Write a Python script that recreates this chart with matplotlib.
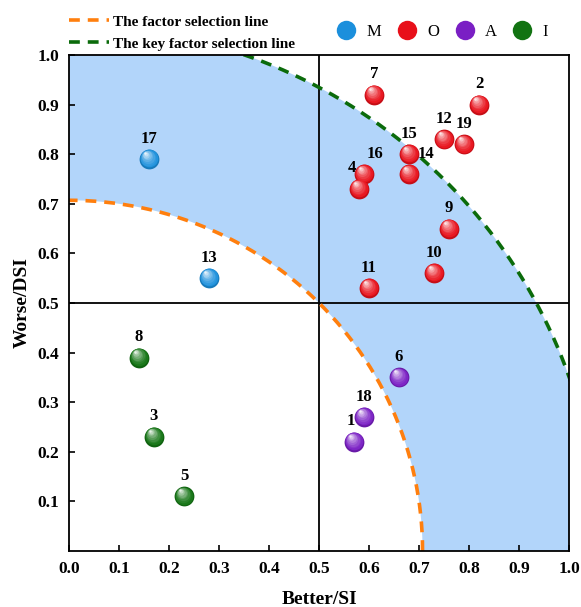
import numpy as np
import matplotlib.pyplot as plt
from matplotlib.lines import Line2D
from matplotlib.colors import to_rgb

plt.rcParams["font.family"] = ["Liberation Serif", "DejaVu Serif"]
plt.rcParams["font.weight"] = "bold"

# factor id, Better/SI, Worse/DSI, category
ids = [17, 13, 8, 3, 5, 7, 2, 12, 19, 15, 14, 16, 4, 9, 10, 11, 6, 18, 1]
better = [0.16, 0.28, 0.14, 0.17, 0.23, 0.61, 0.82, 0.75, 0.79, 0.68, 0.68,
          0.59, 0.58, 0.76, 0.73, 0.60, 0.66, 0.59, 0.57]
worse = [0.79, 0.55, 0.39, 0.23, 0.11, 0.92, 0.90, 0.83, 0.82, 0.80, 0.76,
         0.76, 0.73, 0.65, 0.56, 0.53, 0.35, 0.27, 0.22]
cats = ["M", "M", "I", "I", "I", "O", "O", "O", "O", "O", "O",
        "O", "O", "O", "O", "O", "A", "A", "A"]

# label offsets in points (dx, dy)
label_off = {16: (8, 9), 4: (-5, 9), 14: (12, 9), 1: (-2, 9)}

cat_order = ["M", "O", "A", "I"]
cat_colors = {"M": "#1b8fdc", "O": "#e8101a", "A": "#7a1fc4", "I": "#127312"}

r_factor = np.sqrt(0.5)
r_key = 1.06

fig = plt.figure(figsize=(5.81, 6.07), dpi=100)
ax = fig.add_axes([69 / 581, 56 / 607, 500 / 581, 496 / 607])

# shaded band between the two arcs
th = np.linspace(0, np.pi / 2, 300)
band_x = np.concatenate([r_key * np.cos(th), r_factor * np.cos(th[::-1])])
band_y = np.concatenate([r_key * np.sin(th), r_factor * np.sin(th[::-1])])
ax.fill(band_x, band_y, color="#b2d5fa", lw=0, zorder=0)

ax.plot(r_factor * np.cos(th), r_factor * np.sin(th), ls=(0, (3, 2.2)),
        color="#ff7f0e", lw=2.6, zorder=2)
ax.plot(r_key * np.cos(th), r_key * np.sin(th), ls=(0, (3, 2.2)),
        color="#0b6b0b", lw=2.6, zorder=2)

ax.axvline(0.5, color="black", lw=1.3, zorder=1)
ax.axhline(0.5, color="black", lw=1.3, zorder=1)


def sphere(x, y, color, s=200, z=4):
    base = np.array(to_rgb(color))
    n = 9
    for k in range(n):
        f = k / (n - 1)
        c = base * 0.85 if k == 0 else base + (1 - base) * (f ** 1.6) * 0.9
        c = np.clip(c, 0, 1)
        size = s * (1 - f) ** 1.7 + 3
        sh = 0.012 * f
        ax.scatter(np.asarray(x) - sh * 0.6, np.asarray(y) + sh, s=size,
                   color=c, lw=0, zorder=z + k * 0.01)


for cat in cat_order:
    xs = [b for b, c in zip(better, cats) if c == cat]
    ys = [w for w, c in zip(worse, cats) if c == cat]
    sphere(xs, ys, cat_colors[cat])

for i, b, w in zip(ids, better, worse):
    dx, dy = label_off.get(i, (0, 9))
    ax.annotate(str(i), (b, w), xytext=(dx, dy), textcoords="offset points",
                ha="center", va="bottom", fontsize=12, fontweight="bold", zorder=6)

ax.set_xlim(0, 1)
ax.set_ylim(0, 1)
ax.set_xticks(np.arange(0, 1.01, 0.1))
ax.set_yticks(np.arange(0.1, 1.01, 0.1))
ax.xaxis.set_major_formatter(plt.FormatStrFormatter("%.1f"))
ax.yaxis.set_major_formatter(plt.FormatStrFormatter("%.1f"))
ax.tick_params(direction="in", length=4, width=1.2, labelsize=12.5, pad=7)
for lab in ax.get_xticklabels() + ax.get_yticklabels():
    lab.set_fontweight("bold")
for sp in ax.spines.values():
    sp.set_linewidth(1.3)
ax.set_xlabel("Better/SI", fontsize=14, fontweight="bold", labelpad=10)
ax.set_ylabel("Worse/DSI", fontsize=14, fontweight="bold", labelpad=5)

line_handles = [
    Line2D([], [], ls=(0, (3, 2.2)), color="#ff7f0e", lw=2.6),
    Line2D([], [], ls=(0, (3, 2.2)), color="#0b6b0b", lw=2.6),
]
fig.legend(line_handles, ["The factor selection line", "The key factor selection line"],
           loc="upper left", bbox_to_anchor=(0.095, 0.998), frameon=False,
           prop={"weight": "bold", "size": 11}, handlelength=2.6,
           handletextpad=0.3, labelspacing=0.55)

marker_handles = [Line2D([], [], ls="none", marker="o", ms=14, mew=0,
                         color=cat_colors[c]) for c in cat_order]
fig.legend(marker_handles, cat_order, loc="upper left",
           bbox_to_anchor=(0.553, 0.985), frameon=False, ncol=4,
           prop={"weight": "normal", "size": 12}, handlelength=1.2,
           handletextpad=0.6, columnspacing=0.95)

fig.savefig("out.png", dpi=100)
